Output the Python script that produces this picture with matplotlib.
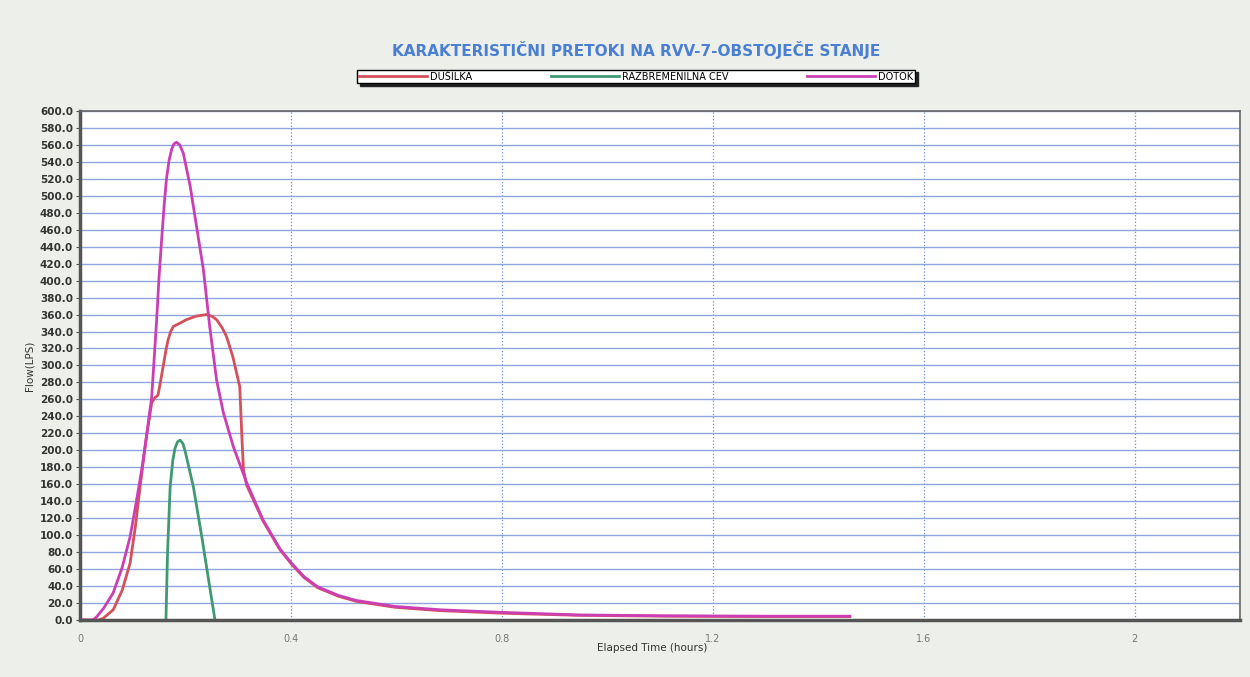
import matplotlib
matplotlib.use("Agg")
import matplotlib.pyplot as plt
import numpy as np

# chart text
title = "KARAKTERISTIČNI PRETOKI NA RVV-7-OBSTOJEČE STANJE"
series_names = ["DUŠILKA", "RAZBREMENILNA CEV", "DOTOK"]

# DOTOK (inflow)
t_dotok = [0.0, 0.025, 0.032, 0.045, 0.063, 0.08, 0.095, 0.107, 0.117, 0.126, 0.136, 0.145,
           0.150, 0.155, 0.160, 0.164, 0.169, 0.174, 0.178, 0.183, 0.189, 0.196, 0.209,
           0.221, 0.234, 0.246, 0.259, 0.272, 0.291, 0.316, 0.347, 0.379, 0.401, 0.425,
           0.451, 0.490, 0.524, 0.597, 0.684, 0.800, 0.945, 1.105, 1.30, 1.46]
q_dotok = [0, 0, 4, 14, 32, 62, 98, 140, 177, 216, 263, 350,
           405, 450, 492, 520, 542, 555, 561, 563, 560, 550, 511,
           464, 413, 346, 283, 244, 204, 162, 118, 84, 67, 51,
           39, 29, 23, 16, 12, 9, 6, 5, 4.5, 4.5]

# DUSILKA (throttle)
t_dus = [0.0, 0.035, 0.044, 0.063, 0.08, 0.095, 0.105, 0.114, 0.126, 0.136, 0.142, 0.148,
         0.153, 0.158, 0.163, 0.167, 0.172, 0.177, 0.190, 0.202, 0.220, 0.240, 0.250,
         0.259, 0.270, 0.278, 0.290, 0.297, 0.303, 0.305, 0.307, 0.310, 0.316, 0.347,
         0.379, 0.401, 0.425, 0.451, 0.490, 0.524, 0.597, 0.684, 0.800, 0.945, 1.105,
         1.30, 1.46]
q_dus = [0, 0, 2, 12, 35, 67, 110, 157, 216, 256, 262, 265,
         282, 300, 318, 330, 340, 346, 350, 354, 358, 360, 358,
         354, 344, 334, 310, 291, 275, 245, 216, 177, 159, 117,
         83, 66, 50, 38, 28, 22, 15, 11, 8, 5.5, 4.5,
         4, 4]

# RAZBREMENILNA CEV (relief pipe)
t_raz = [0.163, 0.166, 0.171, 0.176, 0.180, 0.185, 0.190, 0.195, 0.199, 0.215, 0.231, 0.246, 0.256]
q_raz = [0, 79, 157, 188, 202, 210, 212, 208, 200, 157, 98, 39, 0]

x_ticks = [0, 0.4, 0.8, 1.2, 1.6, 2]
x_tick_labels = ["0", "0.4", "0.8", "1.2", "1.6", "2"]

bg = "#edf0ea"
fig = plt.figure(figsize=(12.5, 6.77), dpi=100, facecolor=bg)
ax = fig.add_axes([0.064, 0.0842, 0.928, 0.752])
ax.set_facecolor("white")

l1, = ax.plot(t_dus, q_dus, color="#d4505a", lw=2)
l2, = ax.plot(t_raz, q_raz, color="#3f9a72", lw=2)
l3, = ax.plot(t_dotok, q_dotok, color="#cc3fb3", lw=2)

ax.set_xlim(0, 2.2)
ax.set_ylim(0, 600)
ax.set_yticks(np.arange(0, 601, 20))
ax.set_yticklabels(["%.1f" % v for v in np.arange(0, 601, 20)], fontsize=7.5,
                   color="#333333", fontweight="bold")
ax.set_xticks(x_ticks)
ax.set_xticklabels(x_tick_labels, fontsize=7, color="#777777")
ax.tick_params(axis="x", length=0, pad=10)
ax.tick_params(axis="y", length=3, width=0.8, color="#555555", pad=2)

ax.yaxis.grid(True, color="#8fa6dc", lw=1)
ax.xaxis.grid(True, color="#6b8fdc", lw=0.9, ls=":")
ax.set_axisbelow(True)

for side in ["left", "bottom"]:
    ax.spines[side].set_linewidth(2.5)
    ax.spines[side].set_color("#555555")
for side in ["top", "right"]:
    ax.spines[side].set_linewidth(1.2)
    ax.spines[side].set_color("#666666")

ax.set_ylabel("Flow(LPS)", fontsize=7.5, color="#333333", labelpad=4)
fig.text(652 / 1250, 1 - 648 / 677, "Elapsed Time (hours)", ha="center", va="center",
         fontsize=7.5, color="#333333")

fig.text(636 / 1250, 1 - 50 / 677, title, ha="center", va="center",
         fontsize=11, fontweight="bold", color="#4a7fd4")

leg = fig.legend([l1, l2, l3], series_names, ncol=3, mode="expand", loc="center",
                 bbox_to_anchor=(357 / 1250, 1 - 86 / 677, 558 / 1250, 19 / 677),
                 fontsize=7, handlelength=7, frameon=True, fancybox=False,
                 shadow={"color": "#222222", "alpha": 1}, borderpad=0.2,
                 handletextpad=0.3, borderaxespad=0)
leg.get_frame().set_edgecolor("black")
leg.get_frame().set_linewidth(1)

fig.savefig("out.png", dpi=100, facecolor=bg)
